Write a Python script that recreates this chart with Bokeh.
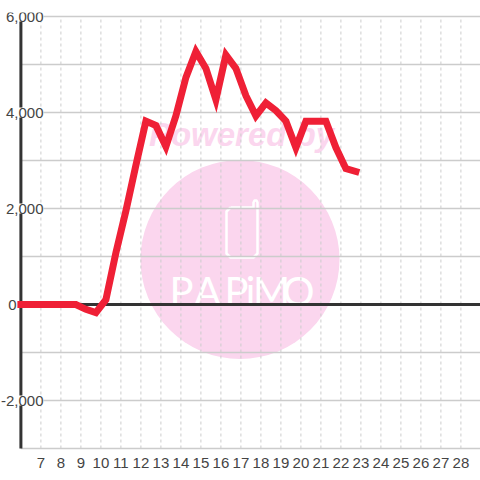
from bokeh.plotting import figure
from bokeh.models import ColumnDataSource, LabelSet, FixedTicker, Range1d
from bokeh.core.properties import value
from bokeh.embed import file_html
from bokeh.resources import INLINE

hours = [6, 6.25, 6.75, 7.25, 7.75, 8.25, 8.75, 9.25, 9.75, 10.25, 10.75, 11.25, 11.75, 12.25, 12.75,
         13.25, 13.75, 14.25, 14.75, 15.25, 15.75, 16.25, 16.75, 17.25, 17.75, 18.25, 18.75,
         19.25, 19.75, 20.25, 20.75, 21.25, 21.75, 22.25, 22.75]
values = [0, 0, 0, 0, 0, 0, 0, -100, -170, 100, 1080, 1950, 2900, 3820, 3730,
          3290, 3930, 4730, 5270, 4920, 4270, 5200, 4920, 4350, 3930, 4200, 4040,
          3820, 3270, 3820, 3820, 3820, 3270, 2830, 2770]
x_ticks = list(range(7, 29))
y_grid = [-3000, -2000, -1000, 0, 1000, 2000, 3000, 4000, 5000, 6000]
y_labels = ["6,000", "4,000", "2,000", "0", "-2,000"]
y_label_vals = [6000, 4000, 2000, 0, -2000]
logo_letters = ["P", "A", "P", "i", "M", "O"]

TEXT = "#444444"
GRID = "#cccccc"
DARK = "#333333"
RED = "#ef2036"
PINK = "#fbd6ee"

# page pixel -> data
def dx(px):
    return 6 + (px - 20.4) / 20
def dy(py):
    return (304 - py) / 48 * 1000

x0 = 6 - 20.4 / 20
x1 = x0 + 480 / 20
y_hi = dy(12)
y_lo = dy(450)

p = figure(width=480, height=480, output_backend="svg", toolbar_location=None,
           x_range=Range1d(x0, x1), y_range=Range1d(y_lo, y_hi),
           min_border_left=0, min_border_right=0, min_border_top=12, min_border_bottom=30,
           background_fill_color="white", border_fill_color="white", outline_line_color=None)
p.ygrid.visible = False
p.xgrid.visible = False
p.yaxis.visible = False

ax = p.xaxis[0]
ax.ticker = FixedTicker(ticks=x_ticks)
ax.axis_line_color = None
ax.major_tick_line_color = None
ax.minor_tick_line_color = None
ax.major_label_standoff = 1
ax.major_label_text_font = "Liberation Sans"
ax.major_label_text_font_size = "15px"
ax.major_label_text_color = TEXT

# watermark
p.scatter([dx(239.5)], [dy(259)], size=199, marker="circle", fill_color=PINK, line_color=None, level="image")
p.text([dx(241)], [dy(134)], text=["Powered by"], text_font=value("Liberation Sans"), text_font_style="bold italic",
       text_font_size="33px", text_color=PINK, text_align="center", text_baseline="middle", level="image")
phone_x = [dx(v) for v in [230, 226, 226, 230, 253, 257, 257, 256, 254, 253, 253, 230]]
phone_y = [dy(v) for v in [207, 211, 253, 257, 257, 253, 202, 200, 200, 202, 207, 207]]
p.line(phone_x, phone_y, line_color="white", line_width=2.5, line_join="round", level="image")
logo_px = [181, 207, 236, 250, 271, 298]
p.text([dx(v) for v in logo_px], [dy(290)] * 6, text=logo_letters, text_font=value("Lato"),
       text_font_size="40px", text_color="white", text_align="center", text_baseline="middle", level="image")

# grid
p.segment(x_ticks, [-3000] * len(x_ticks), x_ticks, [6000] * len(x_ticks),
          line_color=GRID, line_width=1, line_dash="3 3", level="underlay")
p.segment([6] * len(y_grid), y_grid, [x1] * len(y_grid), y_grid,
          line_color=GRID, line_width=1.3, level="underlay")
# axis lines
p.segment([6, 6], [-3000, 0], [6, x1], [6000, 0], line_color=DARK, line_width=3, level="underlay")

# series
p.line(hours, values, line_color=RED, line_width=7, line_join="miter", line_cap="square")

# y labels
label_right = [43, 43, 43, 16, 43]
src = ColumnDataSource(dict(x=[dx(v) for v in label_right], y=y_label_vals, t=y_labels))
p.add_layout(LabelSet(x="x", y="y", text="t", source=src, text_font=value("Liberation Sans"),
                      text_font_size="15px", text_color=TEXT, text_align="right", text_baseline="middle",
                      background_fill_color="white", level="overlay"))

open("out.html", "w").write(file_html(p, INLINE))
